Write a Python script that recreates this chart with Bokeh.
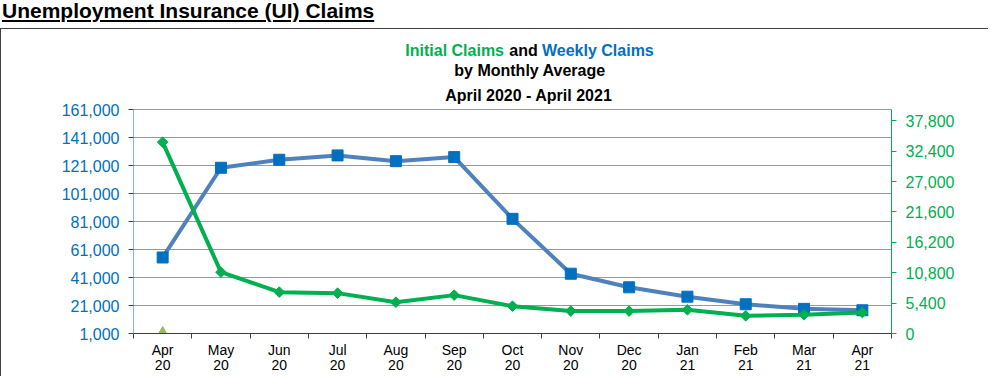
import math
from bokeh.plotting import figure
from bokeh.layouts import column
from bokeh.models import (Range1d, LinearAxis, FixedTicker, Label, Div,
                          NumeralTickFormatter, ColumnDataSource)
from bokeh.embed import file_html
from bokeh.resources import INLINE

# ---------------- data ----------------
months = ["Apr\n20", "May\n20", "Jun\n20", "Jul\n20", "Aug\n20", "Sep\n20", "Oct\n20",
          "Nov\n20", "Dec\n20", "Jan\n21", "Feb\n21", "Mar\n21", "Apr\n21"]
weekly_claims = [55300, 119400, 125100, 128200, 124100, 127000, 82900,
                 43700, 34000, 27300, 21900, 18600, 17600]
initial_claims = [34000, 10900, 7350, 7170, 5570, 6820, 4860,
                  3980, 3980, 4210, 3140, 3320, 3730]
third_months = ["Apr\n20"]
third_values = [0]
left_ticks = [1000, 21000, 41000, 61000, 81000, 101000, 121000, 141000, 161000]
right_ticks = [0, 5400, 10800, 16200, 21600, 27000, 32400, 37800]
left_bounds = (1000, 161000)
right_bounds = (0, 39800)

FONT = "Liberation Sans"
BLUE_TXT = "#0070C0"
GREEN = "#00B050"
BORDER = "#404040"

# ---------------- layout geometry (canvas pixels) ----------------
W, H = 988, 348
L, R, B = 132, 890, 304          # frame left / right / bottom
AXIS_TOP = 80                    # pixel row of the top of the value axes
frac = B / (B - AXIS_TOP)        # frame spans from canvas top to B
left_end = left_bounds[0] + (left_bounds[1] - left_bounds[0]) * frac
right_end = right_bounds[0] + (right_bounds[1] - right_bounds[0]) * frac

n = len(months)
x_centers = [i + 0.5 for i in range(n)]
boundaries = list(range(n + 1))

p = figure(width=W, height=H, x_range=Range1d(0, n),
           y_range=Range1d(left_bounds[0], left_end),
           output_backend="svg", toolbar_location=None,
           min_border_left=L, min_border_right=W - R, min_border_top=0,
           min_border_bottom=H - B)
p.extra_y_ranges = {"right": Range1d(right_bounds[0], right_end)}
p.outline_line_color = None
p.background_fill_color = "white"
p.border_fill_color = "white"
p.styles = {"border-left": "1.5px solid " + BORDER, "border-top": "1.5px solid " + BORDER}

# left axis
left_ticker = FixedTicker(ticks=left_ticks)
ya = p.yaxis[0]
ya.ticker = left_ticker
ya.bounds = left_bounds
ya.formatter = NumeralTickFormatter(format="0,0")
ya.axis_line_color = "#8DB4E2"
ya.major_tick_line_color = BORDER
ya.major_tick_out = 5
ya.major_tick_in = 0
ya.minor_tick_out = 0
ya.major_label_text_color = BLUE_TXT
ya.major_label_text_font = FONT
ya.major_label_text_font_size = "16px"
ya.major_label_standoff = 9
p.ygrid.ticker = left_ticker
p.ygrid.grid_line_color = "#999999"
p.xgrid.visible = False

# x axis
xa = p.xaxis[0]
xa.ticker = FixedTicker(ticks=x_centers, minor_ticks=boundaries)
xa.major_label_overrides = {x: m for x, m in zip(x_centers, months)}
xa.major_tick_out = 0
xa.major_tick_in = 0
xa.minor_tick_out = 5
xa.minor_tick_in = 0
xa.minor_tick_line_color = BORDER
xa.axis_line_color = BORDER
xa.major_label_text_color = "#000000"
xa.major_label_text_font = FONT
xa.major_label_text_font_size = "14px"
xa.major_label_text_line_height = 0.95
xa.major_label_standoff = 3

# right axis
ra = LinearAxis(y_range_name="right", ticker=FixedTicker(ticks=right_ticks),
                formatter=NumeralTickFormatter(format="0,0"), bounds=right_bounds)
ra.axis_line_color = GREEN
ra.major_tick_line_color = GREEN
ra.major_tick_out = 5
ra.major_tick_in = 0
ra.minor_tick_out = 0
ra.major_label_text_color = GREEN
ra.major_label_text_font = FONT
ra.major_label_text_font_size = "16px"
ra.major_label_standoff = 9
p.add_layout(ra, "right")

# series
src = ColumnDataSource(dict(x=x_centers, weekly=weekly_claims, initial=initial_claims))
p.line("x", "weekly", source=src, line_color="#4F81BD", line_width=4)
p.scatter("x", "weekly", source=src, marker="square", size=11,
          fill_color="#0070C0", line_color="#0070C0")
p.line("x", "initial", source=src, line_color=GREEN, line_width=4, y_range_name="right")
p.scatter("x", "initial", source=src, marker="square", angle=math.pi / 4, size=7.5,
          fill_color=GREEN, line_color=GREEN, y_range_name="right")
src3 = ColumnDataSource(dict(x=[x_centers[months.index(m)] for m in third_months], v=third_values))
p.scatter("x", "v", source=src3, marker="triangle", size=12,
          fill_color="#9BBB59", line_color="#9BBB59", y_range_name="right")

# chart titles (inside the frame, frame-relative screen units)
def lab(text, cx, cy, color="#000000", align="center"):
    p.add_layout(Label(x=cx - L, y=B - cy, x_units="screen", y_units="screen", text=text,
                       text_color=color, text_font=FONT, text_font_size="16px",
                       text_font_style="bold", text_align=align, text_baseline="middle"))

lab("Initial Claims", 502.5, 20.5, color=GREEN, align="right")
lab("and", 522, 20.5)
lab("Weekly Claims", 540.5, 20.5, color=BLUE_TXT, align="left")
lab("by Monthly Average", 528.5, 40.5)
lab("April  2020 - April 2021", 529.5, 65.5)

# page heading
heading = Div(
    text=('<span style="font-family:\'Liberation Sans\';font-size:21px;font-weight:bold;'
          'color:#000;text-decoration:underline;text-decoration-thickness:2px;'
          'text-underline-offset:2px;line-height:22px;padding-left:2px;">'
          'Unemployment Insurance (UI) Claims</span>'),
    width=W, height=28, margin=(0, 0, 0, 0))

layout = column(heading, p, spacing=0, margin=(0, 0, 0, 0))

open("out.html", "w").write(file_html(layout, INLINE))
